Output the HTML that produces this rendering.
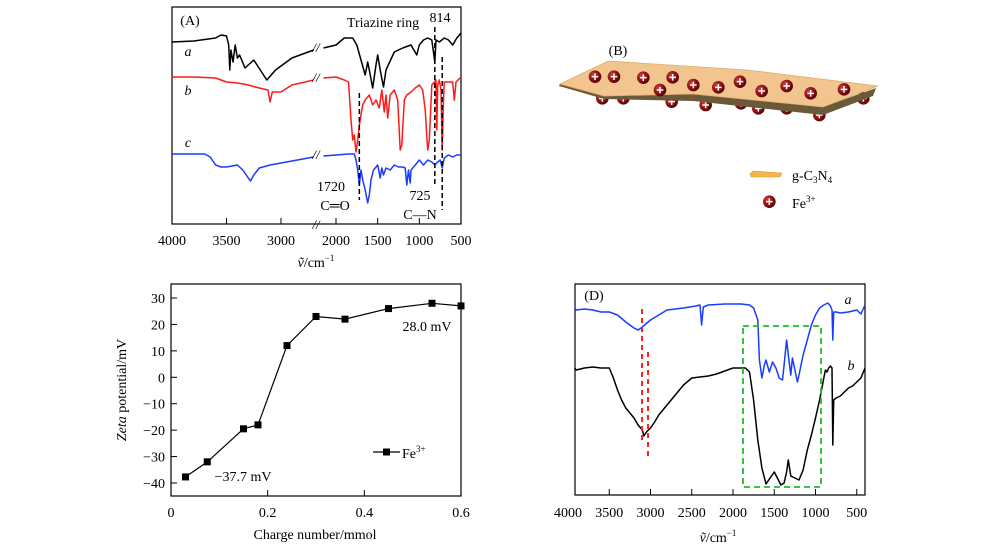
<!DOCTYPE html>
<html><head><meta charset="utf-8">
<style>
html,body{margin:0;padding:0;background:#fff;}
svg{display:block;font-family:"Liberation Serif",serif;}
text{fill:#000;}
</style></head>
<body>
<svg id="fig" width="1000" height="552" viewBox="0 0 1000 552" xmlns="http://www.w3.org/2000/svg"></svg>
<script>
// ---------- Panel A data ----------
const aWN=[4000,3800,3600,3550,3500,3480,3470,3460,3440,3420,3400,3380,3330,3250,3130,3050,2900,2700,2150,2000,1900,1800,1750,1700,1650,1620,1600,1560,1520,1500,1470,1430,1400,1300,1200,1100,1030,1000,950,900,850,814,800,760,700,650,600,550,500];
const aVal=[42,41,38,35,36,45,70,50,62,45,58,55,68,60,80,70,58,50,48,45,38,38,45,60,75,62,70,88,65,55,70,87,70,52,48,45,55,45,40,38,40,62,40,42,38,40,45,38,33];
const bWN=[4000,3800,3600,3500,3400,3300,3200,3120,3100,3080,3000,2900,2700,2150,2000,1900,1850,1820,1800,1780,1760,1740,1720,1700,1680,1650,1620,1600,1560,1520,1480,1450,1420,1400,1380,1350,1300,1260,1230,1210,1180,1150,1100,1050,1000,960,930,900,880,850,820,800,790,780,760,740,725,710,700,650,600,580,560,500];
const bVal=[77,77,78,82,83,85,88,90,102,92,92,85,80,78,77,80,82,120,140,135,152,140,125,115,105,100,97,95,105,100,108,90,112,95,118,95,90,100,150,145,100,95,92,88,85,90,110,150,140,85,82,80,130,85,80,90,150,100,82,82,82,100,82,77];
const cWN=[4000,3800,3700,3650,3600,3550,3500,3400,3350,3300,3280,3250,3200,3100,3000,2850,2700,2150,2000,1850,1780,1760,1740,1720,1700,1680,1650,1620,1600,1580,1550,1500,1470,1450,1430,1400,1350,1300,1250,1200,1170,1150,1130,1110,1100,1050,1000,950,900,850,814,780,750,725,700,650,600,550,500];
const cVal=[154,154,154,157,165,167,167,165,170,178,181,175,168,165,163,160,157,156,155,154,154,160,170,185,170,180,190,203,195,180,170,165,178,168,175,168,170,165,167,167,168,185,170,183,170,165,160,165,160,162,165,162,160,168,158,155,157,155,155];
const aTicks=[4000,3500,3000,2000,1500,1000,500];
// ---------- Panel C data ----------
const cX=[0.03,0.075,0.15,0.18,0.24,0.30,0.36,0.45,0.54,0.6];
const cY=[-37.7,-32,-19.5,-18,12,23,22,26,28,27];
const cXTicks=[0,0.2,0.4,0.6];
const cYTicks=[30,20,10,0,-10,-20,-30,-40];
// ---------- Panel D data ----------
const daWN=[3920,3900,3800,3700,3600,3500,3400,3300,3200,3150,3100,3000,2900,2800,2600,2450,2400,2380,2360,2300,2100,1900,1800,1750,1700,1680,1650,1620,1600,1560,1520,1480,1440,1400,1380,1350,1330,1300,1280,1250,1220,1200,1150,1100,1050,1000,950,900,850,820,800,790,780,750,700,600,500,450,400];
const daVal=[308,310,309,310,312,312,315,322,328,330,327,320,315,310,308,306,305,325,307,305,304,304,305,308,320,360,378,365,360,372,362,368,378,380,365,340,355,375,358,370,382,375,355,340,325,315,308,305,303,306,310,340,312,312,313,312,310,314,305];
const dbWN=[3920,3900,3800,3700,3600,3500,3450,3400,3350,3300,3250,3200,3150,3100,3080,3050,3000,2950,2900,2800,2700,2600,2500,2400,2300,2200,2000,1850,1800,1750,1700,1650,1600,1550,1500,1450,1420,1380,1350,1330,1300,1250,1200,1150,1100,1050,1000,950,900,880,860,840,820,800,790,780,750,700,650,600,550,500,450,400];
const dbVal=[368,370,368,367,368,368,378,390,400,408,413,418,425,430,436,432,428,422,415,405,395,385,378,377,376,374,368,368,372,400,440,468,484,478,472,480,485,483,472,460,476,478,480,470,450,435,418,400,378,370,372,368,366,368,445,400,398,396,392,388,386,382,378,368];
const dTicks=[4000,3500,3000,2500,2000,1500,1000,500];

const NS="http://www.w3.org/2000/svg";
const svg=document.getElementById('fig');
function mk(tag,attrs,parent){const e=document.createElementNS(NS,tag);for(const k in attrs)e.setAttribute(k,attrs[k]);(parent||svg).appendChild(e);return e;}
function txt(s,x,y,size,anchor,parent){const t=mk('text',{x:x,y:y,'font-size':size,'text-anchor':anchor||'middle'},parent);t.innerHTML=s;return t;}

// scales
function xA(w){ if(w>=2700) return 172+(4000-w)*0.109; return 336+(2000-w)*0.08333; }
function yA(v){ return 7+(v-7)*1; }
function xC(v){ return 171+v*(290/0.6); }
function yC(v){ return 298+(30-v)*(185/70); }
function xD(w){ return 568+(4000-w)*0.0825; }
function yD(v){ return 284+(v-284)*1; }

// ========== Panel A ==========
const gA=mk('g',{});


let r=mk('rect',{x:172,y:7,width:289,height:217,fill:'none',stroke:'#000','stroke-width':1.2},gA);


aTicks.forEach(t=>{
  const l=mk('line',{x1:xA(t),x2:xA(t),y1:224,y2:218,stroke:'#000'},gA);
  
  
  const tl=txt(String(t),xA(t),245,14,'middle',gA);
  
  
});
function brokenPath(wn,val,color,name){
  let d='';let prev=null;
  wn.forEach((w,i)=>{const seg=w>=2700?0:1;d+=(prev!==seg?'M':'L')+xA(w).toFixed(1)+','+yA(val[i]).toFixed(1)+' ';prev=seg;});
  const p=mk('path',{d:d,fill:'none',stroke:color,'stroke-width':1.5,'stroke-linejoin':'round'},gA);
  
  
}
brokenPath(aWN,aVal,'#000','curve-a-black');
brokenPath(bWN,bVal,'#ff1a1a','curve-b-red');
brokenPath(cWN,cVal,'#1a3cff','curve-c-blue');
[47,77,154,224].forEach(y=>{
  const b=mk('text',{x:316,y:y+5,'font-size':13,'text-anchor':'middle','font-style':'italic'},gA);b.textContent='//';
  
  
});
[[1720,93,200],[814,27,185],[725,57,210]].forEach(g=>{
  const l=mk('line',{x1:xA(g[0]),x2:xA(g[0]),y1:g[1],y2:g[2],stroke:'#000','stroke-width':1.5,'stroke-dasharray':'5,3'},gA);
  
  
});
[['(A)',190,25,14,'panel-a-label'],['Triazine ring',383,27,14,'triazine-ring-label'],['814',440,22,14,'peak-814-label'],['1720',331,191,14,'peak-1720-label'],['C═O',335,210,14,'co-bond-label'],['725',420,200,14,'peak-725-label'],['C—N',420,219,14,'cn-bond-label']].forEach(a=>{
  const t=txt(a[0],a[1],a[2],a[3],'middle',gA);
  
  
});
[['a',188,56],['b',188,95],['c',188,147]].forEach(a=>{
  const t=mk('text',{x:a[1],y:a[2],'font-size':14,'font-style':'italic','text-anchor':'middle'},gA);t.textContent=a[0];
  
  
});
let ta=txt('<tspan font-style="italic">ṽ</tspan>/cm<tspan font-size="9" dy="-6">−1</tspan>',316,267,14,'middle',gA);



// ========== Panel B ==========
const gB=mk('g',{});


let lb=txt('(B)',618,55,14,'middle',gB);


const defs=mk('defs',{});
defs.innerHTML='<radialGradient id="ball" cx="0.35" cy="0.35" r="0.7"><stop offset="0" stop-color="#c84040"/><stop offset="0.6" stop-color="#8a0f12"/><stop offset="1" stop-color="#4a0406"/></radialGradient>';
const ballsBack=[[187,205],[250,205],[395,215],[497,225],[603,220],[655,235],[740,235],[838,255],[970,205]];
const ballsFront=[[165,140],[222,140],[310,143],[398,142],[360,180],[460,165],[535,172],[600,155],[665,183],[740,168],[812,190],[912,178]];
function ball(zx,zy,name){
  const g=mk('g',{},gB);
  
  
  const cx=540+zx/3,cy=30+zy/3;
  mk('circle',{cx:cx,cy:cy,r:6.3,fill:'url(#ball)'},g);
  mk('path',{d:`M${cx-3.3},${cy}H${cx+3.3}M${cx},${cy-3.3}V${cy+3.3}`,stroke:'#fff','stroke-width':1.5},g);
}
ballsBack.forEach(b=>ball(b[0],b[1],'fe-ion-below'));
let sheetEdge=mk('path',{d:'M559,86 L604,99 L693,101 L823,115 L873,96 L876,88 L823,107 L693,94 L560,84 Z',fill:'#6b5a3a'},gB);


let sheet=mk('path',{d:'M560,84 L608,61 L747,70 L878,86 L823,107 L693,94 L604,96 Z',fill:'#f2c48e',stroke:'#e0ad70','stroke-width':0.8},gB);


ballsFront.forEach(b=>ball(b[0],b[1],'fe-ion-above'));
let lg=mk('path',{d:'M750,174 L753,171 L782,173 L780,177 L751,177 Z',fill:'#f2b64a',stroke:'#d99a30','stroke-width':0.6},gB);


let lt1=txt('g-C<tspan font-size="9" dy="3">3</tspan><tspan dy="-3">N</tspan><tspan font-size="9" dy="3">4</tspan>',792,180,14,'start',gB);


ball(688,515,'legend-fe-swatch');
let lt2=txt('Fe<tspan font-size="9" dy="-6">3+</tspan>',792,208,14,'start',gB);



// ========== Panel C ==========
const gC=mk('g',{});


let rc=mk('rect',{x:171,y:284,width:290,height:212,fill:'none',stroke:'#000','stroke-width':1.2},gC);


cYTicks.forEach(t=>{
  const l=mk('line',{x1:171,x2:177,y1:yC(t),y2:yC(t),stroke:'#000'},gC);
  
  
  const tl=txt(String(t).replace('-','−'),165,yC(t)+5,14,'end',gC);
  
  
});
cXTicks.forEach(t=>{
  const l=mk('line',{x1:xC(t),x2:xC(t),y1:496,y2:490,stroke:'#000'},gC);
  
  
  const tl=txt(String(t),xC(t),517,14,'middle',gC);
  
  
});
let dC='';cX.forEach((x,i)=>{dC+=(i?'L':'M')+xC(x).toFixed(1)+','+yC(cY[i]).toFixed(1);});
let pc=mk('path',{d:dC,fill:'none',stroke:'#000','stroke-width':1.2},gC);


cX.forEach((x,i)=>{
  const m=mk('rect',{x:xC(x)-3.5,y:yC(cY[i])-3.5,width:7,height:7,fill:'#000'},gC);
  
  
});
let ll=mk('line',{x1:373,x2:400,y1:452,y2:452,stroke:'#000','stroke-width':1.2},gC);


let lm=mk('rect',{x:383,y:448.5,width:7,height:7,fill:'#000'},gC);


let lc=txt('Fe<tspan font-size="9" dy="-6">3+</tspan>',402,458,14,'start',gC);


let an1=txt('28.0 mV',427,331,14,'middle',gC);


let an2=txt('−37.7 mV',243,481,14,'middle',gC);


let xtC=txt('Charge number/mmol',315,539,14,'middle',gC);


let ytC=txt('<tspan font-style="italic">Zeta</tspan> potential/mV',0,0,14,'middle',gC);
ytC.setAttribute('transform','translate(126,390) rotate(-90)');



// ========== Panel D ==========
const gD=mk('g',{});


let rd=mk('rect',{x:575,y:284,width:290,height:211,fill:'none',stroke:'#000','stroke-width':1.2},gD);


dTicks.forEach(t=>{
  if(xD(t)>=575){
    const l=mk('line',{x1:xD(t),x2:xD(t),y1:495,y2:489,stroke:'#000'},gD);
    
    
  }
  const tl=txt(String(t),xD(t),517,14,'middle',gD);
  
  
});
function lineD(wn,val,color,name){
  let d='';wn.forEach((w,i)=>{d+=(i?'L':'M')+xD(w).toFixed(1)+','+yD(val[i]).toFixed(1)+' ';});
  const p=mk('path',{d:d,fill:'none',stroke:color,'stroke-width':1.5,'stroke-linejoin':'round'},gD);
  
  
}
lineD(daWN,daVal,'#1a3cff','curve-d-a-blue');
lineD(dbWN,dbVal,'#000','curve-d-b-black');
let rl1=mk('line',{x1:642,x2:642,y1:309,y2:443,stroke:'#ff2020','stroke-width':2,'stroke-dasharray':'5,4'},gD);


let rl2=mk('line',{x1:648,x2:648,y1:352,y2:457,stroke:'#ff2020','stroke-width':2,'stroke-dasharray':'5,4'},gD);


let gb=mk('rect',{x:743,y:326,width:78,height:161,fill:'none',stroke:'#22bb22','stroke-width':1.8,'stroke-dasharray':'6,4'},gD);


let ld=txt('(D)',594,300,14,'middle',gD);


[['a',848,304],['b',851,370]].forEach(a=>{
  const t=mk('text',{x:a[1],y:a[2],'font-size':14,'font-style':'italic','text-anchor':'middle'},gD);t.textContent=a[0];
  
  
});
let xtD=txt('<tspan font-style="italic">ṽ</tspan>/cm<tspan font-size="9" dy="-6">−1</tspan>',718,542,14,'middle',gD);


</script>
</body></html>
